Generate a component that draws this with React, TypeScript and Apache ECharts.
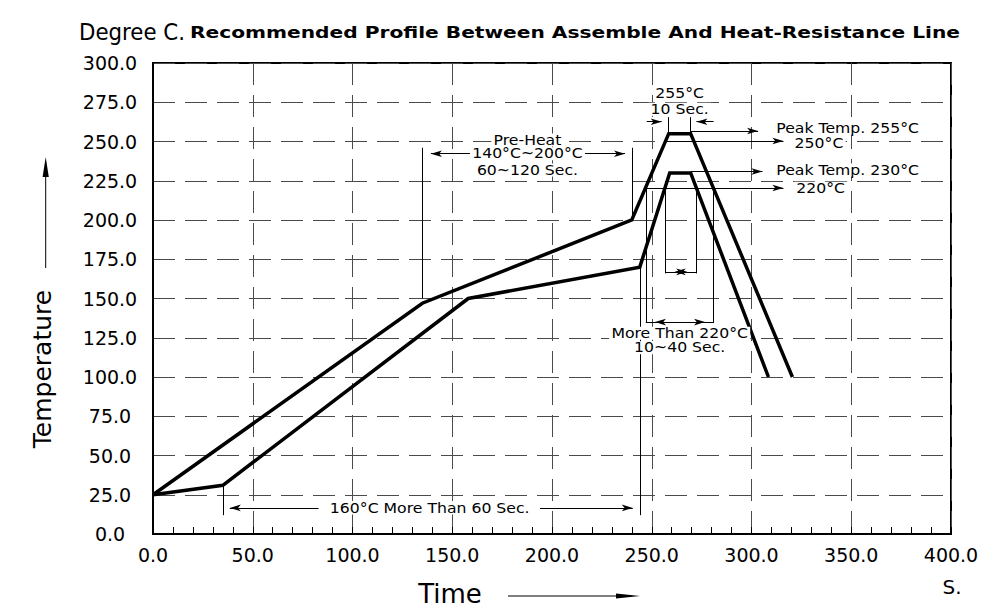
import React, { useEffect, useRef } from 'react';
import * as echarts from 'echarts';

// Reflow profile curves (time in s, temperature in °C)
const upperTime = [0, 135, 240, 258.5, 269.5, 320.5];
const upperTemp = [25, 147, 200, 255, 255, 100];
const lowerTime = [0, 35, 158, 244, 259, 269.5, 308.5];
const lowerTemp = [25, 31, 150, 170, 230, 230, 100];

// Axis ranges
const timeMax = 400;
const timeStep = 50;
const tempMax = 300;
const tempStep = 25;

// Extension (witness) lines: [t1, T1, t2, T2]
const extensionLines = [
  [35, 31, 35, 12],
  [244, 170, 244, 12],
  [135, 246, 135, 150],
  [240, 246, 240, 200],
  [258.5, 265.5, 258.5, 255],
  [269.5, 265.5, 269.5, 255],
  [247, 220, 247, 134.5],
  [281, 220, 281, 134.5],
  [256.7, 220, 256.7, 166],
  [272.5, 220, 272.5, 166],
  [247, 135, 281, 135],
  [256.7, 167, 272.5, 167],
];

// Dimension / leader lines with an arrowhead at the second point: [t1, T1, t2, T2]
const arrowLines = [
  [83, 16.6, 38.5, 16.6],
  [194, 16.6, 240.5, 16.6],
  [159, 242.2, 139.3, 242.2],
  [214, 242.2, 236.6, 242.2],
  [247.5, 262.6, 255, 262.6],
  [281, 262.6, 272.4, 262.6],
  [269.5, 256.7, 303.3, 256.7],
  [257, 250.3, 316, 250.3],
  [269.5, 230.9, 305.5, 230.9],
  [247, 220.4, 316, 220.4],
  [264, 135, 251.6, 135],
  [264, 135, 276.7, 135],
  [264.5, 167, 261.5, 167],
  [264.5, 167, 267.8, 167],
];

// Annotation texts
const noteTexts = [
  'Pre-Heat',
  '140°C~200°C',
  '60~120 Sec.',
  '255°C',
  '10 Sec.',
  'Peak Temp. 255°C',
  '250°C',
  'Peak Temp. 230°C',
  '220°C',
  'More Than 220°C',
  '10~40 Sec.',
  '160°C More Than 60 Sec.',
];
const noteTime = [187.7, 187.7, 187.7, 264, 264, 311.3, 320.5, 311.3, 321.3, 264, 264, 138.7];
const noteTemp = [251, 242.2, 231.8, 280.7, 270.5, 258.4, 248.8, 231.8, 220.2, 127.8, 118.7, 16.6];
const noteLeftAligned = [false, false, false, false, false, true, true, true, true, false, false, false];

const titleLeft = 'Degree C.';
const titleMain = 'Recommended Profile Between Assemble And Heat-Resistance Line';
const yName = 'Temperature';
const xName = 'Time';
const xUnit = 'S.';

function measure(text: string, font: string): number {
  const ctx = document.createElement('canvas').getContext('2d');
  if (!ctx) return text.length * 8;
  ctx.font = font;
  return ctx.measureText(text).width;
}

export default function App() {
  const ref = useRef<HTMLDivElement>(null);

  useEffect(() => {
    if (!ref.current) return;
    const chart = echarts.init(ref.current, null, { renderer: 'svg' });

    const mainFont = 'bold 15px "DejaVu Sans"';
    const mainScale = 771 / measure(titleMain, mainFont);
    const leftFont = '23px "DejaVu Sans"';
    const leftScale = 106 / measure(titleLeft, leftFont);

    const black = '#000';
    const gridDash = { color: '#4a4a4a', width: 1, type: [22, 10] as number[] };

    const markData: any[] = [];
    extensionLines.forEach((l) => {
      markData.push([{ coord: [l[0], l[1]] }, { coord: [l[2], l[3]] }]);
    });
    arrowLines.forEach((l) => {
      markData.push([
        { coord: [l[0], l[1]], symbol: 'none' },
        { coord: [l[2], l[3]], symbol: 'arrow', symbolSize: [5, 11] },
      ]);
    });

    const textEl = (
      x: number,
      y: number,
      text: string,
      size: number,
      align: string,
      extra: any = {},
      styleExtra: any = {}
    ) => ({
      type: 'text',
      x,
      y,
      ...extra,
      style: {
        text,
        fontSize: size,
        fontFamily: 'DejaVu Sans',
        fill: black,
        textAlign: align,
        align,
        textVerticalAlign: 'middle',
        verticalAlign: 'middle',
        ...styleExtra,
      },
    });

    const baseGraphics: any[] = [
      textEl(79, 32, titleLeft, 23, 'left', { scaleX: leftScale }),
      textEl(190, 33, titleMain, 15, 'left', { scaleX: mainScale }, { fontWeight: 'bold' }),
      textEl(42, 369, yName, 25, 'center', { rotation: Math.PI / 2 }),
      {
        type: 'line',
        shape: { x1: 45.7, y1: 268, x2: 45.7, y2: 172 },
        style: { stroke: black, lineWidth: 1 },
      },
      {
        type: 'polygon',
        shape: { points: [[45.7, 157], [42.6, 177], [48.8, 177]] },
        style: { fill: black },
      },
      textEl(450, 594, xName, 26, 'center'),
      {
        type: 'line',
        shape: { x1: 508, y1: 596, x2: 622, y2: 596 },
        style: { stroke: black, lineWidth: 1 },
      },
      {
        type: 'polygon',
        shape: { points: [[640, 596], [616, 593.5], [616, 598.5]] },
        style: { fill: black },
      },
      textEl(952, 587, xUnit, 20, 'center'),
    ];

    const option: any = {
      animation: false,
      backgroundColor: '#fff',
      grid: {
        left: 153,
        right: 43,
        top: 63,
        bottom: 78,
        show: true,
        borderColor: black,
        borderWidth: 2,
        backgroundColor: 'transparent',
      },
      xAxis: {
        type: 'value',
        min: 0,
        max: timeMax,
        interval: timeStep,
        axisLine: { show: true, lineStyle: { color: black, width: 2 } },
        axisTick: { show: true, inside: true, length: 7, lineStyle: { color: black, width: 1 } },
        minorTick: { show: true, splitNumber: 5, length: 7, lineStyle: { color: black, width: 1 } },
        axisLabel: {
          formatter: (v: number) => v.toFixed(1),
          fontSize: 19,
          fontFamily: 'DejaVu Sans',
          color: black,
          margin: 11,
        },
        splitLine: { show: true, lineStyle: gridDash },
      },
      yAxis: {
        type: 'value',
        min: 0,
        max: tempMax,
        interval: tempStep,
        axisLine: { show: true, lineStyle: { color: black, width: 2 } },
        axisTick: { show: false },
        axisLabel: {
          formatter: (v: number) => v.toFixed(1),
          fontSize: 19,
          fontFamily: 'DejaVu Sans',
          color: black,
          align: 'center',
          margin: 43,
        },
        splitLine: { show: true, lineStyle: gridDash },
      },
      series: [
        {
          type: 'line',
          name: 'upper',
          data: upperTime.map((t, i) => [t, upperTemp[i]]),
          symbol: 'none',
          showSymbol: false,
          silent: true,
          lineStyle: { color: black, width: 3.5, join: 'miter' },
          z: 5,
        },
        {
          type: 'line',
          name: 'lower',
          data: lowerTime.map((t, i) => [t, lowerTemp[i]]),
          symbol: 'none',
          showSymbol: false,
          silent: true,
          lineStyle: { color: black, width: 3.5, join: 'miter' },
          z: 5,
          markLine: {
            silent: true,
            animation: false,
            symbol: ['none', 'none'],
            label: { show: false },
            lineStyle: { color: black, width: 1, type: 'solid' },
            itemStyle: { color: black },
            emphasis: { disabled: true },
            data: markData,
          },
        },
      ],
      graphic: baseGraphics,
    };

    chart.setOption(option);

    // Annotation texts placed through the chart's own scales
    const noteGraphics = noteTexts.map((s, i) => {
      const p = chart.convertToPixel({ gridIndex: 0 }, [noteTime[i], noteTemp[i]]) as number[];
      return textEl(
        p[0],
        p[1],
        s,
        14,
        noteLeftAligned[i] ? 'left' : 'center',
        { scaleX: 1.12, z: 100 },
        { backgroundColor: '#fff', padding: [0, 2], lineHeight: 13 }
      );
    });
    chart.setOption({ graphic: [...baseGraphics, ...noteGraphics] });

    return () => chart.dispose();
  }, []);

  return (
    <div
      ref={ref}
      style={{ position: 'fixed', left: 0, top: 0, width: 994, height: 612, background: '#fff' }}
    />
  );
}
